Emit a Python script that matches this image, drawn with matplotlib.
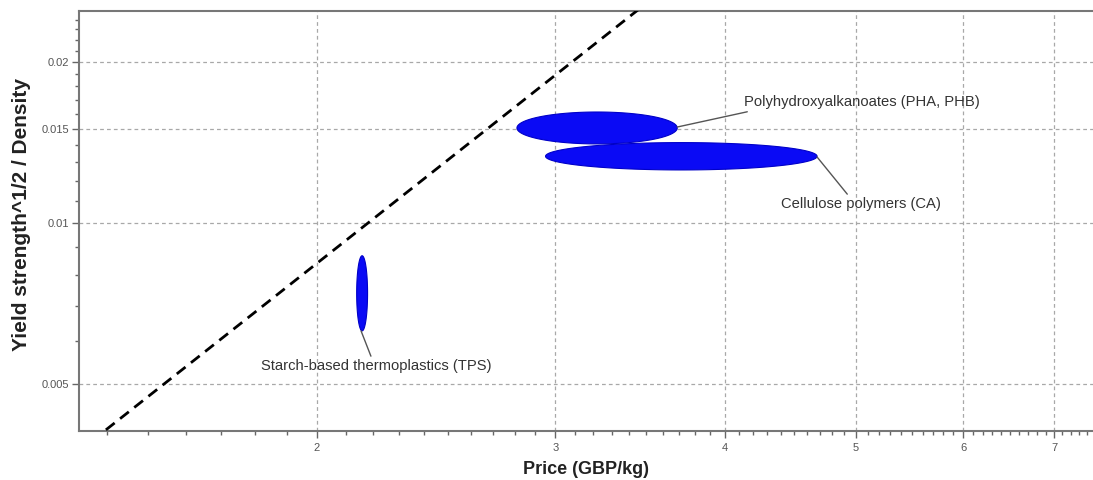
import numpy as np
import matplotlib
matplotlib.use("Agg")
import matplotlib.pyplot as plt
from matplotlib.ticker import FixedLocator, FuncFormatter, NullFormatter

plt.rcParams['font.family'] = ['Liberation Sans', 'DejaVu Sans']

# Material property bubbles: price range (GBP/kg) and sqrt(yield)/density range
materials = ["Polyhydroxyalkanoates (PHA, PHB)", "Cellulose polymers (CA)",
             "Starch-based thermoplastics (TPS)"]
price_lo = [2.81, 2.95, 2.14]
price_hi = [3.69, 4.68, 2.18]
index_lo = [0.01405, 0.01256, 0.00628]
index_hi = [0.01612, 0.01413, 0.00868]

# label positions and where the leader line touches the bubble
label_x = [4.13, 4.40, 1.82]
label_y = [0.01683, 0.01085, 0.0054]
anchor_x = [3.69, 4.68, 2.156]
anchor_y = [0.01511, 0.01328, 0.00628]
label_relpos = [(0.07, 0.0), (0.43, 1.0), (0.48, 1.0)]

# selection guide line, slope 2 on log-log axes: index = C * price^2
guide_c = 0.0021
guide_price = [1.3, 3.6]

x_major = [2, 3, 4, 5, 6, 7]
y_major = [0.005, 0.01, 0.015, 0.02]

fig = plt.figure(figsize=(10.93, 4.8), dpi=100)
ax = fig.add_axes([0.0723, 0.102, 0.9277, 0.875])
ax.set_xscale('log')
ax.set_yscale('log')
ax.set_xlim(1.335, 7.48)
ax.set_ylim(0.00408, 0.0249)

ax.grid(True, which='major', color='#a8a8a8', linestyle=(0, (3, 2.5)), linewidth=0.9)
ax.set_axisbelow(True)

# guide line
gx = np.array(guide_price)
ax.plot(gx, guide_c * gx ** 2, color='black', linestyle=(0, (4, 2.5)), linewidth=2, zorder=3)

# bubbles are ellipses in log space
t = np.linspace(0, 2 * np.pi, 200)
for i in range(len(materials)):
    lx0, lx1 = np.log10(price_lo[i]), np.log10(price_hi[i])
    ly0, ly1 = np.log10(index_lo[i]), np.log10(index_hi[i])
    cx, cy = (lx0 + lx1) / 2, (ly0 + ly1) / 2
    rx, ry = (lx1 - lx0) / 2, (ly1 - ly0) / 2
    ax.fill(10 ** (cx + rx * np.cos(t)), 10 ** (cy + ry * np.sin(t)),
            facecolor='#0a0af5', edgecolor='#0000c8', linewidth=0.8, zorder=4)

for i, name in enumerate(materials):
    ax.annotate(name, xy=(anchor_x[i], anchor_y[i]), xytext=(label_x[i], label_y[i]),
                ha='left', va='center', fontsize=10.6, color='#333333', zorder=5,
                arrowprops=dict(arrowstyle='-', color='#555555', lw=1,
                                shrinkA=0, shrinkB=0, relpos=label_relpos[i]))

ax.xaxis.set_major_locator(FixedLocator(x_major))
ax.xaxis.set_major_formatter(FuncFormatter(lambda v, p: '%g' % v))
ax.xaxis.set_minor_locator(FixedLocator(np.arange(1.4, 7.5, 0.1)))
ax.xaxis.set_minor_formatter(NullFormatter())
ax.yaxis.set_major_locator(FixedLocator(y_major))
ax.yaxis.set_major_formatter(FuncFormatter(lambda v, p: '%g' % v))
ax.yaxis.set_minor_locator(FixedLocator(np.arange(0.004, 0.0255, 0.001)))
ax.yaxis.set_minor_formatter(NullFormatter())

ax.tick_params(which='both', direction='out', colors='#666666', labelcolor='#555555',
               labelsize=8)
ax.tick_params(which='major', length=5, width=1)
ax.tick_params(which='minor', length=3, width=1)
ax.tick_params(axis='y', which='major', pad=2)

for side in ['left', 'bottom', 'top']:
    ax.spines[side].set_color('#777777')
    ax.spines[side].set_linewidth(1.5)
ax.spines['right'].set_visible(False)

ax.set_xlabel('Price (GBP/kg)', fontsize=13, fontweight='bold', color='#222222', labelpad=6)
ax.set_ylabel('Yield strength^1/2 / Density', fontsize=15, fontweight='bold',
              color='#222222', labelpad=4)
ax.yaxis.set_label_coords(-0.047, 0.515)

fig.savefig('out.png', dpi=100)
